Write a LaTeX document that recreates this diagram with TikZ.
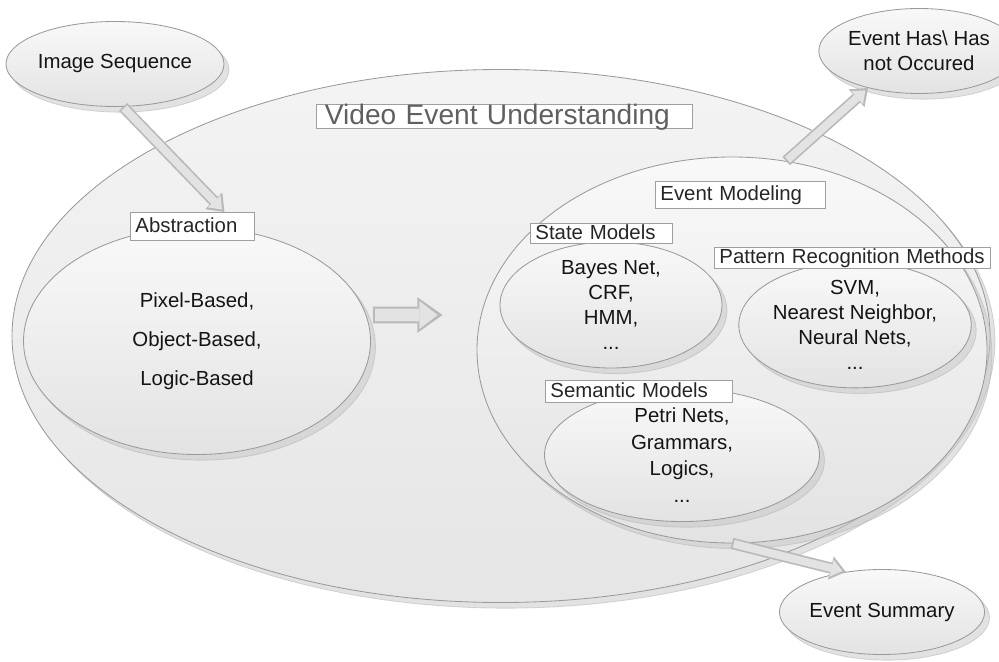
\documentclass[tikz,border=0pt]{standalone}
\usepackage{fontspec}
\setmainfont{Liberation Sans}
\usetikzlibrary{shapes.geometric,shadows,arrows.meta}

\newcommand{\pu}{0.025cm}
\newcommand{\bodyfont}[1]{\fontsize{14.5}{#1}\selectfont}
\definecolor{rim}{HTML}{9A9A9A}
\definecolor{ink}{HTML}{141414}

\tikzset{
	oval/.style 2 args={ellipse, draw=rim, line width=0.6pt, top color=gray!5, bottom color=gray!22,
		minimum width=#1*\pu, minimum height=#2*\pu, inner sep=0pt, align=center, text=ink,
		font=\bodyfont{17.7},
		drop shadow={shadow xshift=3.5pt, shadow yshift=-4pt, fill=gray!45, draw=gray!60}},
	tag/.style={draw=gray!75, line width=0.7pt, fill=white, anchor=north west, align=left,
		inner xsep=3.5pt, inner ysep=0pt, text height=11pt, text depth=3pt, text=black!85,
		font=\bodyfont{17}, text width=#1},
	blockarrow/.style={line width=8pt, draw=gray!55, -{Triangle[length=11pt,width=17pt,line width=0pt]},
		postaction={draw=gray!22, line width=5.6pt, shorten <=1.2pt, shorten >=2.5pt,
			-{Triangle[length=8pt,width=12.5pt,line width=0pt]}}},
	bigarrow/.style={line width=12pt, draw=gray!55, -{Triangle[length=18pt,width=25.5pt,line width=0pt]},
		postaction={draw=gray!22, line width=9pt, shorten <=1.5pt, shorten >=3.5pt,
			-{Triangle[length=13pt,width=20pt,line width=0pt]}}}
}

\begin{document}
\begin{tikzpicture}[x=\pu, y=-\pu]
	\useasboundingbox (0,0) rectangle (999,662);

	% outer frame
	\node[oval={978}{533}, top color=gray!9, bottom color=gray!20] (veu) at (501,336) {};
	\node[tag=8.98cm, inner xsep=6pt, font=\fontsize{20}{24}\selectfont, text=gray!75!black,
		text height=14.5pt, text depth=2.5pt] (veubox) at (316,104) {Video Event Understanding};

	% abstraction
	\node[oval={347}{227}, font=\bodyfont{27.7}] (abs) at (197,341) {Pixel-Based,\\Object-Based,\\Logic-Based};
	\node[tag=2.85cm, minimum height=0.7cm] (absbox) at (130,212) {Abstraction};

	% event modeling
	\node[oval={510}{386}] (evm) at (732,350) {};
	\node[tag=4cm, minimum height=0.675cm] (evmbox) at (655,181) {Event Modeling};

	\node[oval={222}{126}] (st) at (611,305) {Bayes Net,\\CRF,\\HMM,\\...};
	\node[tag=3.3cm, minimum height=0.5cm] (stbox) at (530,223) {State Models};

	\node[oval={220}{114}] (pr) at (855,325) {SVM,\\Nearest Neighbor,\\Neural Nets,\\...};
	\node[tag=6.65cm, minimum height=0.525cm] (prbox) at (714,247) {Pattern Recognition Methods};

	\node[oval={275}{120}, font=\bodyfont{18.8}] (sem) at (682,455) {Petri Nets,\\Grammars,\\Logics,\\...};
	\node[tag=4.43cm, minimum height=0.55cm] (sembox) at (545,380) {Semantic Models};

	% input / outputs
	\node[oval={178}{85}] (img) at (115,64) {Image Sequence};
	\node[oval={158}{85}] (evh) at (919,51) {Event Has\textbackslash{} Has\\not Occured};
	\node[oval={160}{85}] (sum) at (882,612) {Event Summary};

	\draw[blockarrow] ([xshift=0.2cm]img.south) -- ([xshift=0.8cm]absbox.north);
	\draw[bigarrow] ([xshift=0.05cm,yshift=0.65cm]abs.east) -- ([xshift=-0.85cm,yshift=0.875cm]evm.west);
	\draw[blockarrow] (evm.74) -- (evh.216);
	\draw[blockarrow] (evm.south) -- (sum.132);
\end{tikzpicture}
\end{document}
